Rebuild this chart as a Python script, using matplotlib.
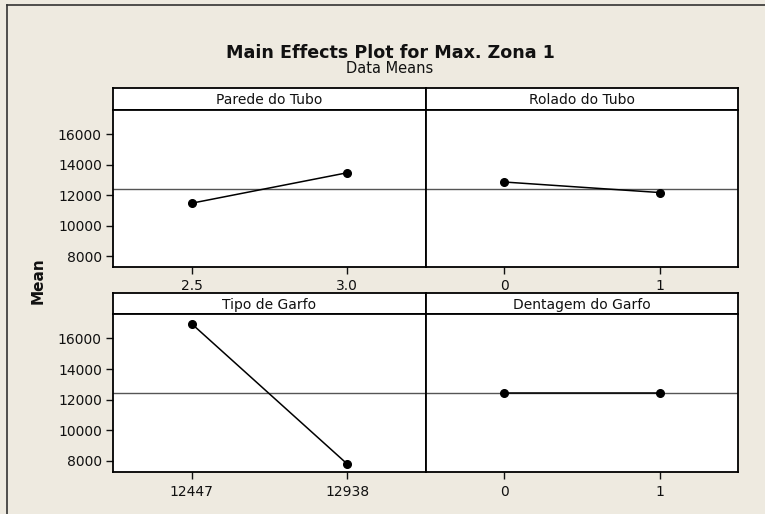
import matplotlib
matplotlib.use("Agg")
import matplotlib.pyplot as plt
from matplotlib.lines import Line2D

# Factor names, levels and mean responses
factors = ["Parede do Tubo", "Rolado do Tubo", "Tipo de Garfo", "Dentagem do Garfo"]
levels = [["2.5", "3.0"], ["0", "1"], ["12447", "12938"], ["0", "1"]]
means = [[11470, 13470], [12860, 12170], [16950, 7800], [12420, 12420]]
grand_mean = 12420

y_ticks = [8000, 10000, 12000, 14000, 16000]
y_range = (7280, 17590)

W, H = 765, 514
BG = "#eeeae0"
plt.rcParams["font.family"] = ["DejaVu Sans"]

fig = plt.figure(figsize=(W / 100, H / 100), dpi=100, facecolor=BG)


def box(x0, y0, x1, y1):
    """Figure-fraction rectangle from pixel coordinates (top-left origin)."""
    return [x0 / W, 1 - y1 / H, (x1 - x0) / W, (y1 - y0) / H]


# outer frame (top and left edges)
fig.add_artist(Line2D([7 / W, 1], [1 - 5 / H, 1 - 5 / H], color="#333333", lw=1.2))
fig.add_artist(Line2D([7 / W, 7 / W], [0, 1 - 5 / H], color="#333333", lw=1.2))

cols = [(113, 426), (426, 738)]
rows = [((88, 110), (110, 267)), ((293, 314), (314, 472))]

for i, name in enumerate(factors):
    r, c = divmod(i, 2)
    (hy0, hy1), (py0, py1) = rows[r]
    x0, x1 = cols[c]

    # strip header
    hax = fig.add_axes(box(x0, hy0, x1, hy1))
    hax.set_xticks([])
    hax.set_yticks([])
    hax.set_facecolor("white")
    for s in hax.spines.values():
        s.set_linewidth(1.3)
        s.set_color("black")
    hax.text(0.5, 0.45, name, ha="center", va="center", fontsize=10,
             transform=hax.transAxes, color="#111111")

    # data panel
    ax = fig.add_axes(box(x0, py0, x1, py1))
    ax.set_facecolor("white")
    for s in ax.spines.values():
        s.set_linewidth(1.3)
        s.set_color("black")
    xs = list(range(len(levels[i])))
    ax.axhline(grand_mean, color="#555555", lw=1.0, zorder=1)
    ax.plot(xs, means[i], color="black", lw=1.1, marker="o", markersize=5.5,
            zorder=3)
    ax.set_xlim(-0.506, 1.506)
    ax.set_ylim(*y_range)
    ax.set_xticks(xs)
    ax.set_xticklabels(levels[i])
    ax.tick_params(axis="x", direction="out", length=5, width=1, pad=4,
                   labelsize=10, colors="#111111")
    if c == 0:
        ax.set_yticks(y_ticks)
        ax.set_yticklabels([str(v) for v in y_ticks])
        ax.tick_params(axis="y", direction="out", length=5, width=1, pad=3,
                       labelsize=10, colors="#111111")
    else:
        ax.set_yticks([])

fig.text(390 / W, 1 - 53 / H, "Main Effects Plot for Max. Zona 1", ha="center",
         va="center", fontsize=12.6, fontweight="bold", color="#111111")
fig.text(390 / W, 1 - 68.5 / H, "Data Means", ha="center", va="center",
         fontsize=10.5, color="#111111")
fig.text(38 / W, 1 - 281 / H, "Mean", ha="center", va="center", rotation=90,
         fontsize=11, fontweight="bold", color="#111111")

fig.savefig("out.png", dpi=100, facecolor=BG)
